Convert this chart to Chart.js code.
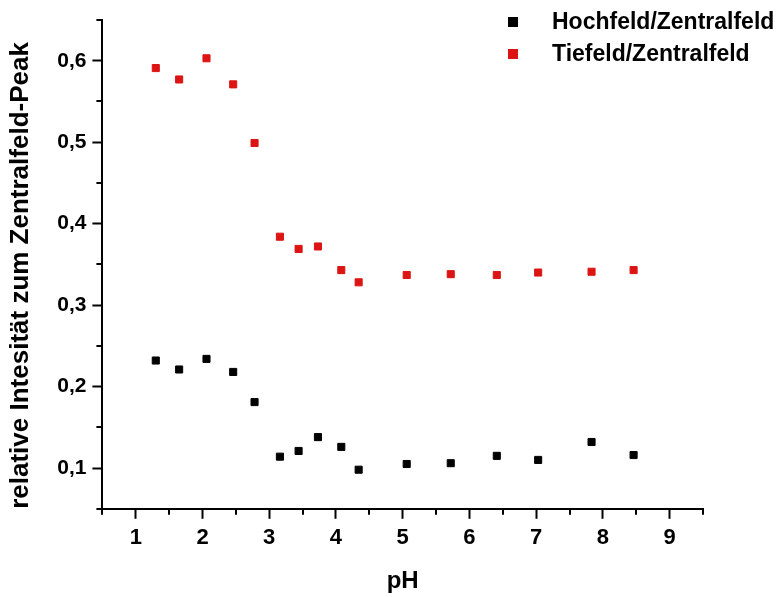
<!DOCTYPE html>
<html>
<head>
<meta charset="utf-8">
<script src="https://cdn.jsdelivr.net/npm/chart.js@4/dist/chart.umd.min.js"></script>
<style>
html,body{margin:0;padding:0;background:#fff;}
#wrap{width:781px;height:597px;}
</style>
</head>
<body>
<div id="wrap"><canvas id="c" width="781" height="597"></canvas></div>
<script>
// ---- data ----
const pH = [1.30, 1.65, 2.06, 2.46, 2.78, 3.16, 3.44, 3.73, 4.08, 4.34, 5.06, 5.72, 6.41, 7.03, 7.83, 8.46];
const hochfeld = [0.232, 0.221, 0.234, 0.218, 0.181, 0.114, 0.121, 0.138, 0.126, 0.098, 0.105, 0.106, 0.115, 0.110, 0.132, 0.116];
const tiefeld = [0.591, 0.577, 0.603, 0.571, 0.499, 0.384, 0.369, 0.372, 0.343, 0.328, 0.337, 0.338, 0.337, 0.340, 0.341, 0.343];
const seriesNames = ['Hochfeld/Zentralfeld', 'Tiefeld/Zentralfeld'];
const xTitle = 'pH';
const yTitle = 'relative Intesität zum Zentralfeld-Peak';

const FONT = "'Liberation Sans', Arial, sans-serif";
const RED = '#dc1414';
const BLACK = '#000000';

function pts(xs, ys){ return xs.map((x,i)=>({x:x, y:ys[i]})); }
function isMult(v, step){ const q = v/step; return Math.abs(q - Math.round(q)) < 1e-6; }

// minor ticks (shorter) drawn through the scales
const minorTicks = {
  id: 'minorTicks',
  afterDraw(chart){
    const ctx = chart.ctx;
    ctx.save();
    ctx.strokeStyle = '#000';
    ctx.lineWidth = 2;
    const xs = chart.scales.x, ys = chart.scales.y;
    xs.ticks.forEach(t => {
      if (!isMult(t.value, 1)) {
        const px = Math.round(xs.getPixelForValue(t.value));
        ctx.beginPath(); ctx.moveTo(px, xs.top); ctx.lineTo(px, xs.top + 6); ctx.stroke();
      }
    });
    ys.ticks.forEach(t => {
      if (!isMult(t.value, 0.1)) {
        const py = Math.round(ys.getPixelForValue(t.value));
        ctx.beginPath(); ctx.moveTo(ys.right, py); ctx.lineTo(ys.right - 6, py); ctx.stroke();
      }
    });
    ctx.restore();
  }
};

// legend drawn at the top right, like the reference
const cornerLegend = {
  id: 'cornerLegend',
  afterDraw(chart){
    const ctx = chart.ctx;
    ctx.save();
    ctx.font = 'bold 23px ' + FONT;
    ctx.textBaseline = 'middle';
    ctx.textAlign = 'left';
    const rows = [22, 54];
    chart.data.datasets.forEach((ds, i) => {
      const y = rows[i];
      ctx.fillStyle = ds.backgroundColor;
      ctx.fillRect(508, y - 5, 10, 10);
      ctx.fillStyle = '#000';
      ctx.fillText(ds.label, 552, y + 1);
    });
    ctx.restore();
  }
};

new Chart(document.getElementById('c'), {
  type: 'scatter',
  data: {
    datasets: [
      { label: seriesNames[0], data: pts(pH, hochfeld), backgroundColor: BLACK, borderColor: BLACK,
        pointStyle: 'rect', pointRadius: 5, borderWidth: 1 },
      { label: seriesNames[1], data: pts(pH, tiefeld), backgroundColor: RED, borderColor: RED,
        pointStyle: 'rect', pointRadius: 5, borderWidth: 1 }
    ]
  },
  options: {
    responsive: false,
    animation: false,
    devicePixelRatio: 1,
    layout: { padding: { top: 20, right: 78, bottom: 1, left: 5 } },
    plugins: { legend: { display: false }, tooltip: { enabled: false } },
    scales: {
      x: {
        type: 'linear', min: 0.5, max: 9.5,
        border: { display: true, color: '#000', width: 2 },
        grid: { drawOnChartArea: false, drawTicks: true, tickLength: 10, tickWidth: 2,
                tickColor: c => isMult(c.tick.value, 1) ? '#000' : 'rgba(0,0,0,0)' },
        ticks: { stepSize: 0.5, autoSkip: false, maxRotation: 0, color: '#000', padding: 6,
                 font: { family: FONT, size: 22, weight: 'bold' },
                 callback: v => isMult(v, 1) ? String(Math.round(v)) : '' },
        title: { display: true, text: xTitle, color: '#000', padding: { top: 10, bottom: 0 },
                 font: { family: FONT, size: 24, weight: 'bold' } }
      },
      y: {
        type: 'linear', min: 0.05, max: 0.65,
        border: { display: true, color: '#000', width: 2 },
        grid: { drawOnChartArea: false, drawTicks: true, tickLength: 10, tickWidth: 2,
                tickColor: c => isMult(c.tick.value, 0.1) ? '#000' : 'rgba(0,0,0,0)' },
        ticks: { stepSize: 0.05, autoSkip: false, color: '#000', padding: 6,
                 font: { family: FONT, size: 21, weight: 'bold' },
                 callback: v => isMult(v, 0.1) ? v.toFixed(1).replace('.', ',') : '' },
        title: { display: true, text: yTitle, color: '#000', align: 'start', padding: { top: 0, bottom: 15 },
                 font: { family: FONT, size: 26, weight: 'bold' } }
      }
    }
  },
  plugins: [minorTicks, cornerLegend]
});
</script>
</body>
</html>
